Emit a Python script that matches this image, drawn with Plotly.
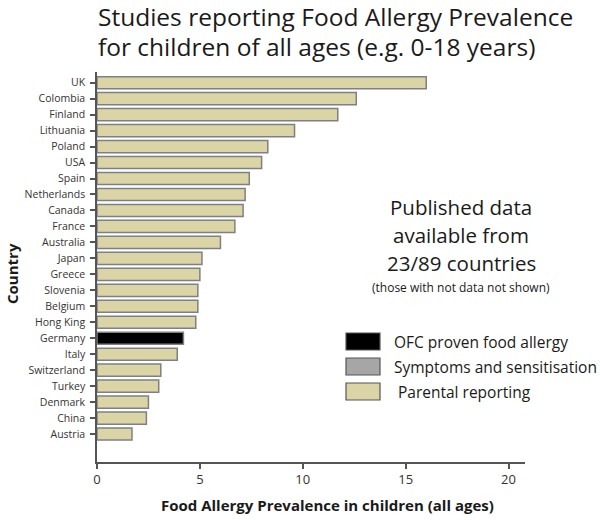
import plotly.graph_objects as go

countries = ["UK", "Colombia", "Finland", "Lithuania", "Poland", "USA", "Spain",
             "Netherlands", "Canada", "France", "Australia", "Japan", "Greece",
             "Slovenia", "Belgium", "Hong King", "Germany", "Italy", "Switzerland",
             "Turkey", "Denmark", "China", "Austria"]
prevalence = [16.0, 12.6, 11.7, 9.6, 8.3, 8.0, 7.4, 7.2, 7.1, 6.7, 6.0, 5.1, 5.0,
              4.9, 4.9, 4.8, 4.2, 3.9, 3.1, 3.0, 2.5, 2.4, 1.7]
method = ["Parental"] * 16 + ["OFC"] + ["Parental"] * 6

legend_labels = ["OFC proven food allergy", "Symptoms and sensitisation", "Parental reporting"]
legend_keys = ["OFC", "Symptoms", "Parental"]
x_ticks = [0, 5, 10, 15, 20]
title_lines = ["Studies reporting Food Allergy Prevalence",
               "for children of all ages (e.g. 0-18 years)"]
note_lines = ["Published data", "available from", "23/89 countries"]

colors = {"OFC": "#000000", "Symptoms": "#a6a6a6", "Parental": "#dbd4a6"}
FONT = "'Open Sans', sans-serif"

W, H = 600, 520
L, R, T, B = 97, 75, 72, 58
pw, ph = W - L - R, H - T - B

def px(x):
    return (x - L) / pw

def py(y):
    return (H - B - y) / ph

fig = go.Figure()
fig.add_trace(go.Bar(
    y=countries, x=prevalence, orientation="h",
    marker=dict(color=[colors[m] for m in method], line=dict(color="#808080", width=1.5)),
    showlegend=False,
))

n = len(countries)
fig.update_layout(
    width=W, height=H,
    margin=dict(l=L, r=R, t=T, b=B),
    paper_bgcolor="white", plot_bgcolor="white",
    bargap=0.24,
    font=dict(family=FONT, color="#333333"),
    xaxis=dict(range=[0, 20.8], tickvals=x_ticks, showgrid=False, zeroline=False,
               showline=True, linecolor="#555555", linewidth=1.5,
               ticks="outside", ticklen=5, tickcolor="#555555", tickwidth=1.5,
               tickfont=dict(size=13, color="#333333")),
    yaxis=dict(categoryorder="array", categoryarray=countries,
               range=[n - 1 + 1.75, -0.67], showgrid=False, zeroline=False,
               showline=True, linecolor="#555555", linewidth=1.5,
               ticks="outside", ticklen=5, tickcolor="#555555", tickwidth=1.5,
               ticklabelstandoff=3,
               tickfont=dict(size=10.5, color="#333333")),
)

ann = []
for i, line in enumerate(title_lines):
    ann.append(dict(text=line, x=px(96), y=py(16 + 30 * i), xref="paper", yref="paper",
                    showarrow=False, xanchor="left", yanchor="middle",
                    font=dict(size=24.5, color="#1a1a1a")))
ann.append(dict(text="<b>Food Allergy Prevalence in children (all ages)</b>",
                x=px(327), y=py(505), xref="paper", yref="paper", showarrow=False,
                xanchor="center", yanchor="middle", font=dict(size=15, color="#1a1a1a")))
ann.append(dict(text="<b>Country</b>", textangle=-90,
                x=px(12), y=py(274), xref="paper", yref="paper", showarrow=False,
                xanchor="center", yanchor="middle", font=dict(size=15, color="#1a1a1a")))
for i, line in enumerate(note_lines):
    ann.append(dict(text=line, x=px(461), y=py(207 + 28 * i), xref="paper", yref="paper",
                    showarrow=False, xanchor="center", yanchor="middle",
                    font=dict(size=20.5, color="#1a1a1a")))
ann.append(dict(text="(those with not data not shown)", x=px(461), y=py(287), xref="paper",
                yref="paper", showarrow=False, xanchor="center", yanchor="middle",
                font=dict(size=12, color="#1a1a1a")))

shapes = []
for i, (lab, key) in enumerate(zip(legend_labels, legend_keys)):
    top = 333 + 25 * i
    shapes.append(dict(type="rect", xref="paper", yref="paper",
                       x0=px(346), x1=px(380), y0=py(top + 17), y1=py(top),
                       fillcolor=colors[key], line=dict(color="#555555", width=1.2)))
    ann.append(dict(text=lab, x=px(392 + (4 if i == 2 else 0)), y=py(top + 8.5), xref="paper",
                    yref="paper", showarrow=False, xanchor="left", yanchor="middle",
                    font=dict(size=15.5, color="#1a1a1a")))

fig.update_layout(annotations=ann, shapes=shapes)
fig.write_html("out.html", config={"displayModeBar": False},
               post_script="document.body.style.margin='0';")
